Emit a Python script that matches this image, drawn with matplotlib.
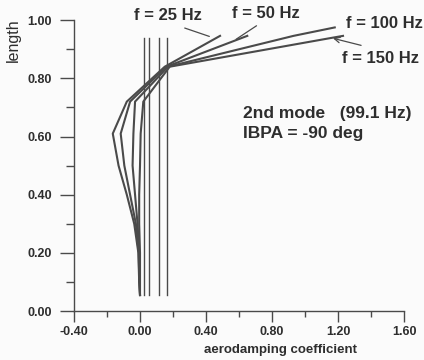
import matplotlib
matplotlib.use("Agg")
import matplotlib.pyplot as plt

plt.rcParams['font.family'] = ['Liberation Sans', 'DejaVu Sans']

# 叶高站位与各频率的气动阻尼系数
y_25 = [0.055, 0.10, 0.20, 0.30, 0.40, 0.50, 0.61, 0.72, 0.84, 0.946]
d_25 = [0.00, -0.005, -0.01, -0.035, -0.08, -0.13, -0.165, -0.08, 0.15, 0.485]
y_50 = [0.055, 0.10, 0.20, 0.30, 0.40, 0.50, 0.61, 0.72, 0.84, 0.946]
d_50 = [0.00, -0.004, -0.008, -0.025, -0.06, -0.095, -0.117, -0.06, 0.16, 0.65]
y_100 = [0.055, 0.10, 0.20, 0.30, 0.40, 0.50, 0.61, 0.72, 0.84, 0.946, 0.975]
d_100 = [0.00, -0.002, -0.005, -0.015, -0.03, -0.045, -0.04, -0.03, 0.17, 0.93, 1.18]
y_150 = [0.055, 0.10, 0.20, 0.30, 0.40, 0.50, 0.61, 0.72, 0.84, 0.938, 0.946]
d_150 = [0.00, 0.00, 0.00, -0.005, -0.005, 0.00, 0.004, 0.02, 0.18, 1.15, 1.23]

# 各频率平均值（竖线）
means = [0.024, 0.056, 0.113, 0.165]
mean_y0, mean_y1 = 0.055, 0.94

line_c = '#4a4a4a'
text_c = '#2e2e2e'

fig = plt.figure(figsize=(4.24, 3.6), dpi=100, facecolor='#fbfbfb')
ax = fig.add_axes([0.1745, 0.136, 0.7785, 0.808])
ax.set_facecolor('#fbfbfb')

for m in means:
    ax.plot([m, m], [mean_y0, mean_y1], color=line_c, lw=1.0)

for d, y in [(d_25, y_25), (d_50, y_50), (d_100, y_100), (d_150, y_150)]:
    ax.plot(d, y, color=line_c, lw=1.5)

ax.set_xlim(-0.4, 1.6)
ax.set_ylim(0, 1.0)
ax.spines['top'].set_visible(False)
ax.spines['right'].set_visible(False)
for s in ['left', 'bottom']:
    ax.spines[s].set_color(line_c)
    ax.spines[s].set_linewidth(1.0)

ax.set_xticks([-0.4, 0.0, 0.4, 0.8, 1.2, 1.6])
ax.set_xticks([-0.2, 0.2, 0.6, 1.0, 1.4], minor=True)
ax.set_yticks([0.0, 0.2, 0.4, 0.6, 0.8, 1.0])
ax.set_yticks([0.1, 0.3, 0.5, 0.7, 0.9], minor=True)
ax.xaxis.set_major_formatter(plt.FormatStrFormatter('%.2f'))
ax.yaxis.set_major_formatter(plt.FormatStrFormatter('%.2f'))
ax.tick_params(which='both', color=line_c, width=1.0,
               labelsize=9, labelcolor=text_c)
ax.tick_params(axis='x', which='major', length=8, pad=3)
ax.tick_params(axis='x', which='minor', length=4)
ax.tick_params(axis='y', which='major', length=10, pad=6)
ax.tick_params(axis='y', which='minor', length=6)
for lab in ax.get_xticklabels() + ax.get_yticklabels():
    lab.set_fontweight('bold')

ax.set_xlabel('aerodamping coefficient', fontsize=9.5, fontweight='bold', color=text_c)
ax.xaxis.set_label_coords(0.625, -0.115)
ax.set_ylabel('length', fontsize=11.5, color=text_c)
ax.yaxis.set_label_coords(-0.162, 0.93)

lbl = dict(fontsize=12, fontweight='bold', color=text_c, ha='center', va='center')
ax.text(0.17, 1.017, 'f = 25 Hz', **lbl)
ax.text(0.764, 1.024, 'f = 50 Hz', **lbl)
ax.text(1.482, 0.99, 'f = 100 Hz', **lbl)
ax.text(1.455, 0.869, 'f = 150 Hz', **lbl)

arrow = dict(arrowstyle='-', color=line_c, lw=0.9)
ax.annotate('', xy=(0.436, 0.941), xytext=(0.255, 0.976), arrowprops=arrow)
ax.annotate('', xy=(0.568, 0.929), xytext=(0.72, 0.986), arrowprops=arrow)
ax.annotate('', xy=(1.153, 0.94), xytext=(1.356, 0.911),
            arrowprops=dict(arrowstyle='->', color=line_c, lw=0.9))

ax.text(0.627, 0.679, '2nd mode   (99.1 Hz)', fontsize=12.5, fontweight='bold',
        color=text_c, va='center', ha='left')
ax.text(0.627, 0.61, 'IBPA = -90 deg', fontsize=12.5, fontweight='bold',
        color=text_c, va='center', ha='left')

fig.savefig('out.png', dpi=100, facecolor=fig.get_facecolor())
